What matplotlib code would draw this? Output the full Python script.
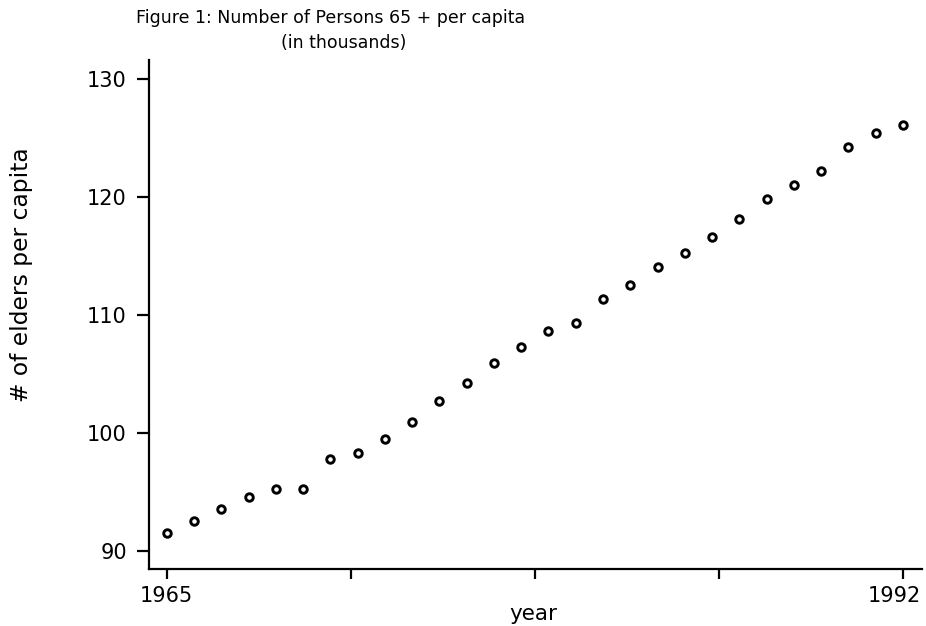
import matplotlib
matplotlib.use("Agg")
import matplotlib.pyplot as plt
import matplotlib.transforms as mtransforms
import numpy as np

# persons aged 65+ per capita (thousands), 1965-1992
years = list(range(1965, 1993))
elders = [91.53, 92.54, 93.56, 94.58, 95.26, 95.26, 97.78, 98.31, 99.47, 100.92,
          102.72, 104.25, 105.95, 107.30, 108.66, 109.34, 111.35, 112.56, 114.09, 115.28,
          116.63, 118.16, 119.80, 121.04, 122.23, 124.27, 125.45, 126.13]

yticks = [90, 100, 110, 120, 130]
xticks = [1965, 1971.75, 1978.5, 1985.25, 1992]
xticklabels = ['1965', '', '', '', '1992']

plt.rcParams['font.family'] = 'DejaVu Sans'

fig = plt.figure(figsize=(9.26, 6.26), dpi=100)
ax = fig.add_axes([0.1609, 0.0911, 0.9957 - 0.1609, 0.9042 - 0.0911])

ax.plot(years, elders, 'o', markersize=5.4, markerfacecolor='white',
        markeredgecolor='black', markeredgewidth=2.1, linestyle='none')

ax.set_xlim(1964.35, 1992.70)
ax.set_ylim(88.45, 131.61)
ax.set_yticks(yticks)
ax.set_xticks(xticks)
ax.set_xticklabels(xticklabels)

for s in ['top', 'right']:
    ax.spines[s].set_visible(False)
for s in ['left', 'bottom']:
    ax.spines[s].set_linewidth(1.6)

ax.tick_params(axis='y', direction='out', length=9, width=1.6, pad=7, labelsize=15)
ax.tick_params(axis='x', direction='out', length=7.5, width=1.6, pad=5, labelsize=15)

# pull the last year label in so it stays inside the figure
last = ax.get_xticklabels()[-1]
last.set_transform(last.get_transform() +
                   mtransforms.ScaledTranslation(-0.09, 0, fig.dpi_scale_trans))

fig.text(0.023, 0.561, '# of elders per capita', rotation=90, fontsize=16.8,
         ha='center', va='center')
fig.text(0.5756, 0.019, 'year', fontsize=15.5, ha='center', va='center')

fig.text(0.357, 0.971, 'Figure 1: Number of Persons 65 + per capita', fontsize=12.5,
         ha='center', va='center')
fig.text(0.3715, 0.931, '(in thousands)', fontsize=12.5, ha='center', va='center')

fig.savefig('out.png', dpi=100)
